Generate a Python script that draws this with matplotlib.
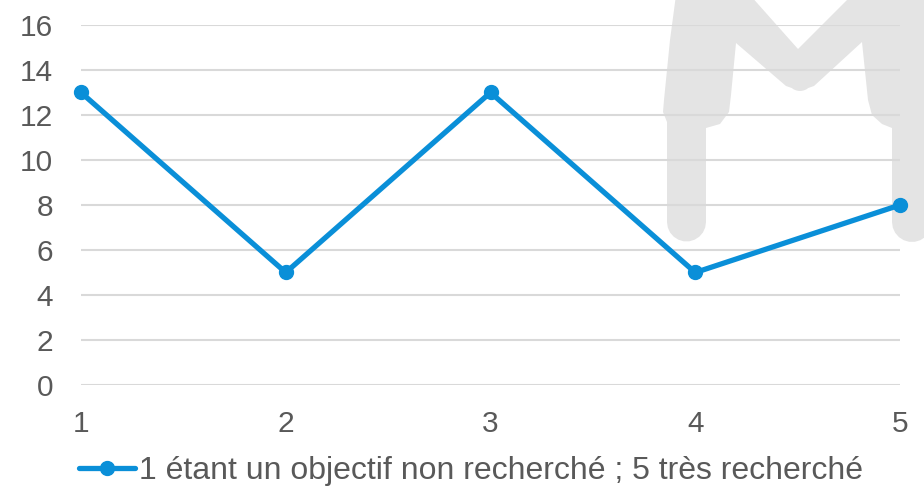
import matplotlib
matplotlib.use("Agg")
import matplotlib.pyplot as plt
import numpy as np
from matplotlib.patches import Polygon

W, H = 924, 498

categories = [1, 2, 3, 4, 5]
values = [13, 5, 13, 5, 8]
y_ticks = [0, 2, 4, 6, 8, 10, 12, 14, 16]
series_label = "1 étant un objectif non recherché ; 5 très recherché"

BLUE = "#0A8FD8"
TEXT = "#595959"
GRID = "#D9D9D9"
MARK = "#E4E4E4"

plt.rcParams["font.family"] = ["Liberation Sans", "DejaVu Sans"]


def arc(cx, cy, r, a0, a1, n=12):
    # points on a circle, pixel space (y down)
    t = np.linspace(np.radians(a0), np.radians(a1), n)
    return list(zip(cx + r * np.cos(t), cy + r * np.sin(t)))


def px(pts):
    # pixel coords (origin top-left) -> figure fraction
    return [(x / W, 1 - y / H) for x, y in pts]


fig = plt.figure(figsize=(W / 100, H / 100), dpi=100)

# background logo watermark (grey "M")
logo = ([(676, -5), (670, 40), (664, 100), (663, 112), (667, 122)]
        + arc(686.5, 222, 19.5, 180, 0)
        + [(706, 128), (720, 124), (729, 112), (731, 95), (736, 43), (786, 86)]
        + arc(800, 78, 13, 130, 50, 8)
        + [(814, 86), (862, 42), (868, 100), (872, 115), (882, 124), (892, 128)]
        + arc(912, 222, 20, 180, 0)
        + [(935, -5), (852, -5), (798, 49), (750, -5)])
fig.patches.append(Polygon(px(logo), closed=True, transform=fig.transFigure,
                           facecolor=MARK, edgecolor="none", zorder=-5))

ax = fig.add_axes([81 / W, 1 - 385 / H, (900 - 81) / W, (385 - 25) / H])
ax.patch.set_visible(False)

ax.plot(categories, values, color=BLUE, lw=3.8, marker="o", ms=10,
        solid_capstyle="round", clip_on=False, label=series_label, zorder=3)

ax.set_xlim(categories[0], categories[-1])
ax.set_ylim(y_ticks[0], y_ticks[-1])
ax.set_xticks(categories)
ax.set_yticks(y_ticks)
ax.grid(axis="y", color=GRID, lw=1.5)
ax.set_axisbelow(True)
for s in ax.spines.values():
    s.set_visible(False)
ax.tick_params(axis="both", length=0, labelsize=21.5, labelcolor=TEXT)
ax.tick_params(axis="x", pad=18)
ax.tick_params(axis="y", pad=20)

ax.legend(loc="center", bbox_to_anchor=(471 / W, 1 - 471 / H), bbox_transform=fig.transFigure,
          frameon=False, fontsize=23, labelcolor=TEXT, handlelength=1.75,
          handletextpad=0.15, borderaxespad=0)

fig.savefig("out.png", dpi=100)
